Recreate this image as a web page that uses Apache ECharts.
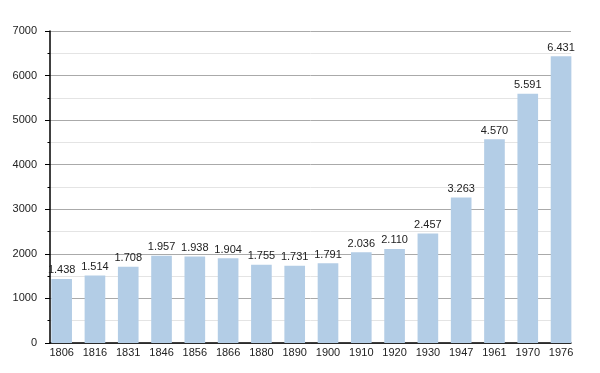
<!DOCTYPE html>
<html>
<head>
<meta charset="utf-8">
<script src="https://cdn.jsdelivr.net/npm/echarts@6/dist/echarts.min.js"></script>
<style>html,body{margin:0;padding:0;background:#fff}#c{width:600px;height:373px}</style>
</head>
<body>
<div id="c"></div>
<script>
var years = ['1806','1816','1831','1846','1856','1866','1880','1890','1900','1910','1920','1930','1947','1961','1970','1976'];
var population = [1438,1514,1708,1957,1938,1904,1755,1731,1791,2036,2110,2457,3263,4570,5591,6431];
var yTicks = {min: 0, max: 7000, interval: 1000};

var font = 'Liberation Sans, Arial, sans-serif';
var chart = echarts.init(document.getElementById('c'), null, {renderer: 'canvas'});
chart.setOption({
  animation: false,
  backgroundColor: '#ffffff',
  grid: [
    {left: 50, right: 29, top: 31, bottom: 30},
    {left: 45, right: 22.3, top: 31, bottom: 30}
  ],
  xAxis: [
    {gridIndex: 0, type: 'category', data: years,
     axisLine: {show: true, lineStyle: {color: '#000', width: 1.5}},
     axisTick: {show: false}, axisLabel: {show: false}, splitLine: {show: false}},
    {gridIndex: 1, type: 'category', data: years,
     axisLine: {show: false}, axisTick: {show: false},
     axisLabel: {show: true, color: '#222', fontSize: 11, fontFamily: font, margin: 4, interval: 0}}
  ],
  yAxis: [
    {gridIndex: 0, type: 'value', min: yTicks.min, max: yTicks.max, interval: yTicks.interval,
     axisLine: {show: true, lineStyle: {color: '#000', width: 1.5}},
     axisTick: {show: true, length: 5, lineStyle: {color: '#000'}},
     minorTick: {show: true, splitNumber: 2, length: 2.5, lineStyle: {color: '#000'}},
     splitLine: {show: true, lineStyle: {color: '#aaaaaa', width: 1}},
     minorSplitLine: {show: true, lineStyle: {color: '#e4e4e4', width: 1}},
     axisLabel: {color: '#222', fontSize: 11, fontFamily: font, margin: 13,
       formatter: function (v) { return String(v); }}},
    {gridIndex: 1, type: 'value', min: yTicks.min, max: yTicks.max, interval: yTicks.interval, show: false,
     splitLine: {show: false}}
  ],
  series: [{
    type: 'bar', xAxisIndex: 1, yAxisIndex: 1,
    data: population,
    barCategoryGap: '38%',
    itemStyle: {color: '#b3cde6'},
    label: {show: true, position: 'top', distance: 3, color: '#222', fontSize: 11, fontFamily: font,
      formatter: function (p) { return String(p.value).replace(/\B(?=(\d{3})+(?!\d))/g, '.'); }}
  }]
});
</script>
</body>
</html>
